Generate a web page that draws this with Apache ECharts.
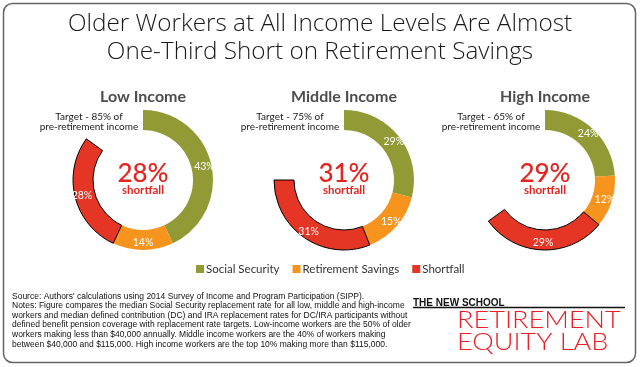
<!DOCTYPE html>
<html><head><meta charset="utf-8">
<script src="https://cdn.jsdelivr.net/npm/echarts@6/dist/echarts.min.js"></script>
<style>html,body{margin:0;padding:0;background:#fff}#c{width:640px;height:367px}</style>
</head><body><div id="c"></div>
<script>
var groups = ['Low Income', 'Middle Income', 'High Income'];
var targets = [85, 75, 65];
var socialSecurity = [43, 29, 24];
var retirementSavings = [14, 15, 12];
var shortfall = [28, 31, 29];
var seriesNames = ['Social Security', 'Retirement Savings', 'Shortfall'];
var titleLines = ['Older Workers at All Income Levels Are Almost', 'One-Third Short on Retirement Savings'];
var noteLines = [
  "Source: Authors' calculations using 2014 Survey of Income and Program Participation (SIPP).",
  "Notes: Figure compares the median Social Security replacement rate for all low, middle and high-income",
  "workers and median defined contribution (DC) and IRA replacement rates for DC/IRA participants without",
  "defined benefit pension coverage with replacement rate targets. Low-income workers are the 50% of older",
  "workers making less than $40,000 annually. Middle income workers are the 40% of workers making",
  "between $40,000 and $115,000. High income workers are the top 10% making more than $115,000."
];

var colors = ['#929a35', '#f7941d', '#e43525'];
var centersX = [143, 344, 545];
var cy = 180;
var chart = echarts.init(document.getElementById('c'), null, {renderer: 'canvas'});

var series = [];
var graphics = [];
graphics.push({type: 'rect', shape: {x: 3.5, y: 3.5, width: 632, height: 359, r: 9}, style: {fill: '#fff', stroke: '#666', lineWidth: 1.5}, z: -10});
graphics.push({type: 'text', x: 320, y: 10, style: {text: titleLines.join('\n'), font: '300 24.3px "Open Sans"', fill: '#1a1a1a', textAlign: 'center', lineHeight: 28}});

groups.forEach(function (g, i) {
  var cx = centersX[i];
  series.push({
    type: 'pie', name: g, center: [cx, cy], radius: [50, 70], startAngle: 90, clockwise: true,
    avoidLabelOverlap: false, silent: true, animation: false,
    label: {show: true, position: 'inside', formatter: '{c}%', color: '#fff', fontSize: 10.5, fontFamily: 'Lato'},
    labelLine: {show: false},
    data: [
      {name: seriesNames[0], value: socialSecurity[i], itemStyle: {color: colors[0]}},
      {name: seriesNames[1], value: retirementSavings[i], itemStyle: {color: colors[1]}},
      {name: seriesNames[2], value: shortfall[i], itemStyle: {color: colors[2], borderColor: '#000', borderWidth: 1}},
      {name: 'gap', value: 100 - targets[i], itemStyle: {color: 'rgba(0,0,0,0)'}, label: {show: false}}
    ]
  });
  graphics.push({type: 'text', x: cx, y: 89, style: {text: g, font: 'bold 16px Lato', fill: '#4d4d4d', textAlign: 'center'}});
  graphics.push({type: 'text', x: cx - 54, y: 111.5, style: {text: 'Target - ' + targets[i] + '% of\npre-retirement income', font: '10px Lato', fill: '#1a1a1a', textAlign: 'center', lineHeight: 10.5}});
  graphics.push({type: 'text', x: cx, y: 174, style: {text: shortfall[i] + '%', font: '500 26px Lato', fill: '#e5231f', textAlign: 'center', textVerticalAlign: 'middle'}});
  graphics.push({type: 'text', x: cx, y: 190, style: {text: 'shortfall', font: 'bold 11.5px Lato', fill: '#e5231f', textAlign: 'center', textVerticalAlign: 'middle'}});
});

graphics.push({type: 'text', x: 12, y: 291.5, style: {text: noteLines.join('\n'), font: '8.5px "Liberation Sans"', fill: '#111', lineHeight: 9.6}});
graphics.push({type: 'text', x: 413, y: 298, style: {text: 'THE NEW SCHOOL', font: 'bold 10px "Liberation Sans"', fill: '#111'}});
graphics.push({type: 'line', shape: {x1: 413, y1: 307.5, x2: 625, y2: 307.5}, style: {stroke: '#111', lineWidth: 1.5}});
graphics.push({type: 'text', x: 457, y: 320, scaleX: 1.13, style: {text: 'RETIREMENT', font: '300 24px Lato', fill: '#ee1c24', textVerticalAlign: 'middle'}});
graphics.push({type: 'text', x: 457, y: 342, scaleX: 1.13, style: {text: 'EQUITY LAB', font: '300 24px Lato', fill: '#ee1c24', textVerticalAlign: 'middle'}});

chart.setOption({
  animation: false,
  legend: {
    data: seriesNames, left: 191, top: 258, icon: 'rect', itemWidth: 8, itemHeight: 8, itemGap: 13,
    itemStyle: {borderWidth: 0},
    textStyle: {fontSize: 11.5, color: '#333', fontFamily: 'Lato', padding: [0, 0, 0, -3]}, selectedMode: false
  },
  series: series,
  graphic: graphics
});
</script></body></html>
